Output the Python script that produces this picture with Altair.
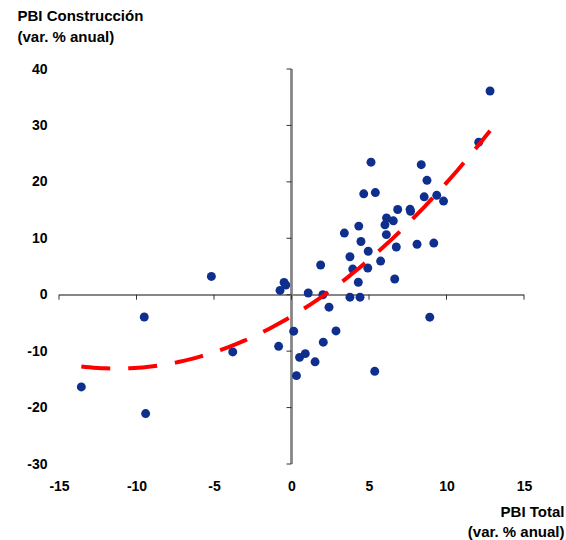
import altair as alt
import pandas as pd

# PBI Total (x) and PBI Construcción (y), var. % anual
pbi_total = [-13.56, -9.50, -9.41, -5.17, -3.79, -0.83, -0.74, -0.48, -0.37, 0.14,
             0.32, 0.52, 0.89, 1.52, 1.08, 1.88, 2.02, 2.42, 2.05, 2.87,
             3.41, 3.77, 3.77, 3.95, 4.31, 4.34, 4.42, 4.48, 4.66, 4.95,
             4.92, 5.13, 5.41, 5.37, 5.75, 6.03, 6.13, 6.12, 6.57, 6.66,
             6.76, 6.85, 7.65, 7.68, 8.10, 8.37, 8.74, 8.56, 8.92, 9.18,
             9.37, 9.81, 12.08, 12.81]
pbi_construccion = [-16.34, -3.95, -21.06, 3.24, -10.14, -9.15, 0.76, 2.18, 1.72, -6.46,
                    -14.34, -11.10, -10.44, -11.89, 0.30, 5.26, 0.00, -2.21, -8.41, -6.42,
                    10.92, 6.73, -0.44, 4.55, 2.21, 12.16, -0.44, 9.43, 17.88, 7.70,
                    4.73, 23.49, 18.10, -13.58, 5.96, 12.39, 13.59, 10.65, 13.10, 2.78,
                    8.46, 15.10, 15.13, 14.78, 8.94, 23.04, 20.27, 17.35, -3.98, 9.15,
                    17.61, 16.60, 27.03, 36.10]

x_ticks = [-15, -10, -5, 0, 5, 10, 15]
y_ticks = [-30, -20, -10, 0, 10, 20, 30, 40]

df = pd.DataFrame({"x": pbi_total, "y": pbi_construccion})
xt = pd.DataFrame({"t": x_ticks})
yt = pd.DataFrame({"t": y_ticks})

FONT = "Liberation Sans"
xscale = alt.Scale(domain=[-15, 15], nice=False, zero=False)
yscale = alt.Scale(domain=[-30, 40], nice=False, zero=False)

points = alt.Chart(df).mark_circle(size=80, color="#0F2F8F", opacity=1).encode(
    x=alt.X("x:Q", scale=xscale, axis=alt.Axis(
        values=x_ticks, domain=False, ticks=False, grid=False,
        labelExpr="datum.value + ''",
        labelFont=FONT, labelFontSize=14, labelFontWeight="bold", labelColor="black",
        labelPadding=15, labelFlush=False, labelOverlap=False,
        title=["PBI Total", "(var. % anual)"], titleFont=FONT, titleFontSize=15,
        titleFontWeight="bold", titleColor="black", titleAngle=0, titleAlign="right",
        titleBaseline="top", titleX=505, titleY=40, titleLineHeight=20)),
    y=alt.Y("y:Q", scale=yscale, axis=alt.Axis(
        values=y_ticks, domain=False, ticks=False, grid=False,
        labelExpr="datum.value + ''",
        labelFont=FONT, labelFontSize=14, labelFontWeight="bold", labelColor="black",
        labelPadding=12, labelFlush=False, labelOverlap=False,
        title=["PBI Construcción", "(var. % anual)"], titleFont=FONT, titleFontSize=15,
        titleFontWeight="bold", titleColor="black", titleAngle=0, titleAlign="left",
        titleBaseline="top", titleX=-42, titleY=-61, titleLineHeight=21)),
)

trend = alt.Chart(df).transform_regression(
    "x", "y", method="poly", order=2
).mark_line(color="#FF0000", strokeWidth=4, strokeDash=[29, 18]).encode(
    x=alt.X("x:Q", scale=xscale),
    y=alt.Y("y:Q", scale=yscale),
)

hline = alt.Chart(xt).mark_rule(color="#868686", strokeWidth=1.5).encode(
    x=alt.datum(-15, scale=xscale), x2=alt.datum(15), y=alt.datum(0, scale=yscale)
)
vline = alt.Chart(yt).mark_rule(color="#868686", strokeWidth=1.5).encode(
    y=alt.datum(-30, scale=yscale), y2=alt.datum(40), x=alt.datum(0, scale=xscale)
)
xtick_marks = alt.Chart(xt).mark_rule(color="#333333", strokeWidth=1, y2Offset=5).encode(
    x=alt.X("t:Q", scale=xscale), y=alt.datum(0, scale=yscale), y2=alt.datum(0)
)
ytick_marks = alt.Chart(yt).mark_rule(color="#333333", strokeWidth=1, x2Offset=-5).encode(
    y=alt.Y("t:Q", scale=yscale), x=alt.datum(0, scale=xscale), x2=alt.datum(0)
)

chart = alt.layer(hline, vline, xtick_marks, ytick_marks, points, trend).properties(
    width=465, height=395,
    padding={"left": 59, "top": 69, "right": 42, "bottom": 76},
    autosize=alt.AutoSizeParams(type="none"),
    background="white",
).configure_view(stroke=None)

chart.save("out.html", embed_options={"renderer": "svg", "actions": False})
